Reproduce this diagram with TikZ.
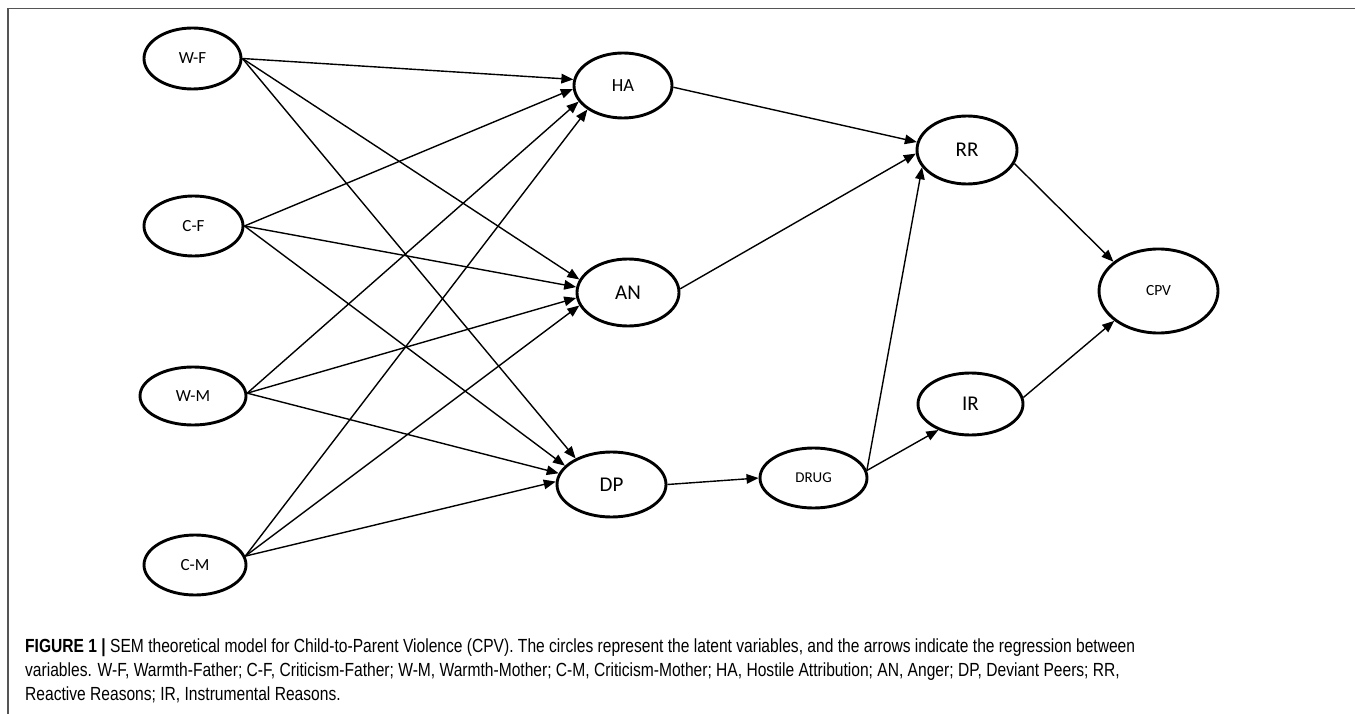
\documentclass[tikz,border=0pt]{standalone}
\usepackage{fontspec}
\setmainfont{Carlito}
\newfontfamily\capfont{Liberation Sans}
\usetikzlibrary{arrows.meta,shapes.geometric}
\definecolor{captxt}{HTML}{3A3A3A}
\definecolor{framegray}{HTML}{555555}
\tikzset{
  lat/.style={draw, ellipse, line width=2.9pt, inner sep=0pt},
  reg/.style={line width=1.4pt, -{Triangle[length=12pt,width=9.5pt]}},
  capline/.style={anchor=base west, inner sep=0pt, text=captxt},
}
\newsavebox\capA
\newsavebox\capB
\newsavebox\capC
\newcommand\capsize{\fontsize{19}{22}\selectfont}
\begin{document}
\sbox\capA{\capfont\capsize\textbf{FIGURE 1 |} SEM theoretical model for Child-to-Parent Violence (CPV). The circles represent the latent variables, and the arrows indicate the regression between}%
\sbox\capB{\capfont\capsize variables. W-F, Warmth-Father; C-F, Criticism-Father; W-M, Warmth-Mother; C-M, Criticism-Mother; HA, Hostile Attribution; AN, Anger; DP, Deviant Peers; RR,}%
\sbox\capC{\capfont\capsize Reactive Reasons; IR, Instrumental Reasons.}%
\pgfmathsetmacro\capsx{1110/\wd\capA}%
\begin{tikzpicture}[x=1pt,y=-1pt]
\useasboundingbox (0,0) rectangle (1355,714);
\draw[framegray, line width=1.3pt] (8,714) -- (8,8.5) -- (1355,8.5);
% latent variables
\node[lat, minimum width=97pt, minimum height=61pt, font=\fontsize{17}{20}\selectfont] (WF) at (192.5,58.5) {W-F};
\node[lat, minimum width=99pt, minimum height=60pt, font=\fontsize{17}{20}\selectfont] (CF) at (193.5,226) {C-F};
\node[lat, minimum width=106pt, minimum height=58pt, font=\fontsize{17}{20}\selectfont] (WM) at (193,396) {W-M};
\node[lat, minimum width=102pt, minimum height=60pt, font=\fontsize{17}{20}\selectfont] (CM) at (195,565) {C-M};
\node[lat, minimum width=98pt, minimum height=65pt, font=\fontsize{18.5}{22}\selectfont] (HA) at (623,85.5) {HA};
\node[lat, minimum width=102pt, minimum height=67pt, font=\fontsize{21}{24}\selectfont] (AN) at (628,292.5) {AN};
\node[lat, minimum width=109pt, minimum height=65pt, font=\fontsize{21}{24}\selectfont] (DP) at (611.5,484.5) {DP};
\node[lat, minimum width=107pt, minimum height=60pt, font=\fontsize{15}{18}\selectfont] (DRUG) at (813.5,478) {DRUG};
\node[lat, minimum width=100pt, minimum height=68pt, font=\fontsize{21}{24}\selectfont] (RR) at (967,150) {RR};
\node[lat, minimum width=105pt, minimum height=62pt, font=\fontsize{21}{24}\selectfont] (IR) at (970.5,404) {IR};
\node[lat, minimum width=119pt, minimum height=84pt, font=\fontsize{15.5}{18}\selectfont] (CPV) at (1158.5,291) {CPV};
% regressions
\draw[reg] (WF.east) -- (HA.173);
\draw[reg] (WF.east) -- (AN.165);
\draw[reg] (WF.east) -- (DP.144);
\draw[reg] (CF.east) -- (HA.184);
\draw[reg] (CF.east) -- (AN.174);
\draw[reg] (CF.east) -- (DP.158);
\draw[reg] (WM.3) -- (HA.200);
\draw[reg] (WM.3) -- (AN.186);
\draw[reg] (WM.3) -- (DP.168);
\draw[reg] (CM.10) -- (HA.214);
\draw[reg] (CM.10) -- (AN.195);
\draw[reg] (CM.10) -- (DP.177);
\draw[reg] (HA.358) -- (RR.171);
\draw[reg] (AN.4) -- (RR.184);
\draw[reg] (DP.east) -- (DRUG.west);
\draw[reg] (DRUG.8) -- (RR.201);
\draw[reg] (DRUG.8) -- (IR.219);
\draw[reg] (RR.344) -- (CPV.147);
\draw[reg] (IR.7) -- (CPV.214);
% caption
\node[capline] (cap1) at (25,652) {\scalebox{\capsx}[1]{\usebox\capA}};
\node[capline] (cap2) at (25,676) {\scalebox{\capsx}[1]{\usebox\capB}};
\node[capline] (cap3) at (25,700) {\scalebox{\capsx}[1]{\usebox\capC}};
\end{tikzpicture}
\end{document}
